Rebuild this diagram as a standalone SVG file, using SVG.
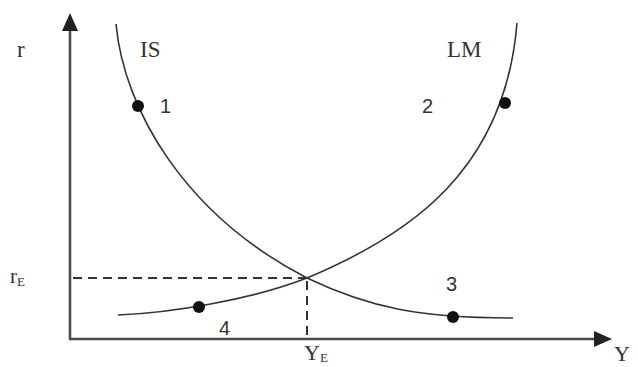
<svg xmlns="http://www.w3.org/2000/svg" width="638" height="367" viewBox="0 0 638 367">
<style>
.axis{stroke:#4a4a4a;stroke-width:2.5;fill:none}
.curve{stroke:#333;stroke-width:1.6;fill:none}
.dash{stroke:#333;stroke-width:2;fill:none;stroke-dasharray:9 6}
.serif{font-family:"Liberation Serif","Times New Roman",serif;fill:#333}
.sans{font-family:"Liberation Sans",Arial,sans-serif;fill:#333;font-size:20px}
.dot{fill:#111}
</style>
<rect width="638" height="367" fill="#fff"/>
<g id="connectors">
<line class="axis" x1="70" y1="340" x2="70" y2="28"/>
<polygon points="70,13 62,31 78,31" fill="#222"/>
<line class="axis" x1="69" y1="339" x2="596" y2="339"/>
<polygon points="612,339 594,331 594,347" fill="#222"/>
<path class="dash" d="M73,278 H307"/>
<path class="dash" d="M307,281 V338"/>
</g>
<g id="IS">
<path class="curve" d="M116,24 C124,110 185,215 307,278 C370,308 420,318 513,318"/>
<text class="serif" x="140" y="57" font-size="23">IS</text>
</g>
<g id="LM">
<path class="curve" d="M118,315 C170,313 250,300 307,278 C410,235 505,170 517,23"/>
<text class="serif" x="447" y="57" font-size="23">LM</text>
</g>
<g id="point1"><circle class="dot" cx="138" cy="106" r="6"/><text class="sans" x="160" y="113">1</text></g>
<g id="point2"><circle class="dot" cx="505" cy="103" r="6"/><text class="sans" x="422" y="113">2</text></g>
<g id="point3"><circle class="dot" cx="453" cy="317" r="6"/><text class="sans" x="446" y="291">3</text></g>
<g id="point4"><circle class="dot" cx="199" cy="307" r="6"/><text class="sans" x="219" y="335">4</text></g>
<g id="labels">
<text class="serif" x="17" y="57" font-size="23">r</text>
<text class="serif" x="10" y="283" font-size="21">r<tspan font-size="13" dy="3">E</tspan></text>
<text class="serif" x="304" y="360" font-size="22">Y<tspan font-size="13" dy="2">E</tspan></text>
<text class="serif" x="614" y="361" font-size="22">Y</text>
</g>
</svg>
